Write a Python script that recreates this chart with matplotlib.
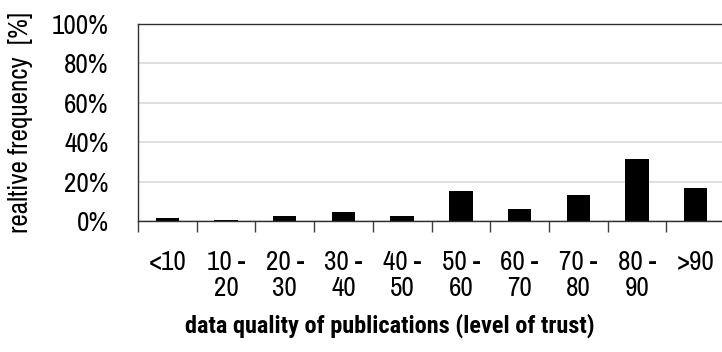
import numpy as np
import matplotlib.pyplot as plt
from matplotlib.ticker import PercentFormatter

# data
categories = ['<10', '10 -\n20', '20 -\n30', '30 -\n40', '40 -\n50',
              '50 -\n60', '60 -\n70', '70 -\n80', '80 -\n90', '>90']
freq = [1.5, 0.3, 2.5, 4.7, 2.5, 15.2, 6.1, 13.0, 31.6, 16.6]  # percent
yticks = [0, 20, 40, 60, 80, 100]

plt.rcParams['font.family'] = ['Liberation Sans Narrow', 'Archivo Narrow', 'Liberation Sans', 'DejaVu Sans']

fig = plt.figure(figsize=(7.22, 3.52), dpi=100)
ax = fig.add_axes([138 / 722, 1 - 221 / 352, 587 / 722, 197 / 352])

x = np.arange(len(categories))
ax.bar(x, freq, width=0.4, color='black', zorder=3)

ax.set_xlim(-0.5, len(categories) - 0.5)
ax.set_ylim(0, 100)
ax.set_yticks(yticks)
ax.yaxis.set_major_formatter(PercentFormatter(decimals=0))
ax.grid(axis='y', color='#d9d9d9', linewidth=1.2, zorder=0)

ax.set_xticks(x)
ax.set_xticklabels(categories, linespacing=1.05)
ax.set_xticks(np.arange(-0.5, len(categories)), minor=True)
ax.tick_params(axis='x', which='major', length=0, pad=21, labelsize=19.5)
ax.tick_params(axis='x', which='minor', length=8, width=1, color='#404040')
ax.tick_params(axis='y', length=0, pad=21, labelsize=19.5)

ax.spines['right'].set_visible(False)
for s in ['top', 'left', 'bottom']:
    ax.spines[s].set_color('#303030')
    ax.spines[s].set_linewidth(1)
ax.spines['bottom'].set_zorder(4)

ax.set_ylabel('realtive frequency  [%]', fontsize=19.5, labelpad=14)
fig.text(390 / 722, 1 - 326 / 352, 'data quality of publications (level of trust)',
         ha='center', va='center', fontsize=17.5, fontweight='bold',
         family=['Roboto Condensed', 'Asap Condensed', 'Liberation Sans'])

fig.savefig('out.png', dpi=100)
